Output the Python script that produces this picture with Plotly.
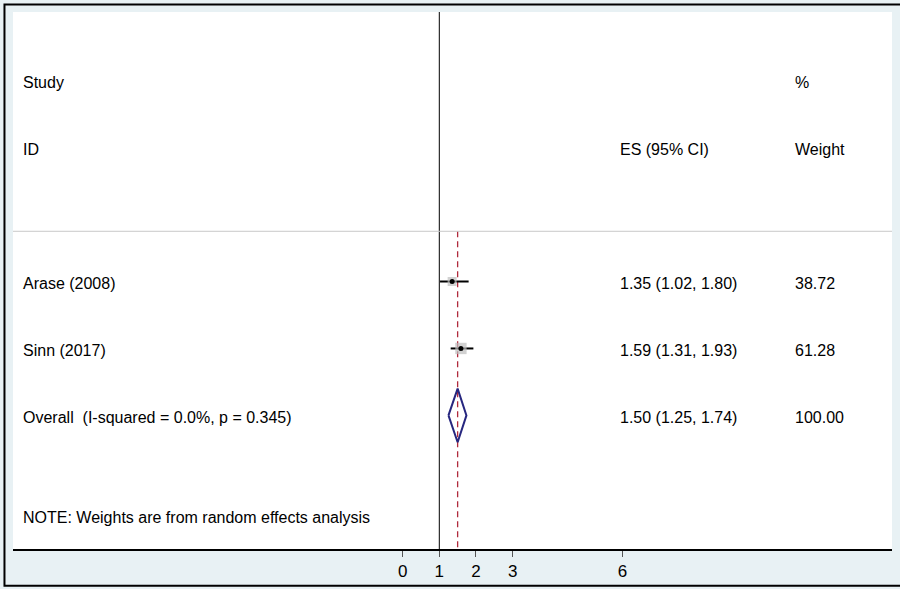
import plotly.graph_objects as go

# Study-level estimates (hazard ratio with 95% CI) and random-effects weights
studies = ["Arase (2008)", "Sinn (2017)"]
es = [1.35, 1.59]
ci_low = [1.02, 1.31]
ci_high = [1.80, 1.93]
weights = [38.72, 61.28]

# Pooled estimate
overall_label = "Overall  (I-squared = 0.0%, p = 0.345)"
overall_es = 1.50
overall_low = 1.25
overall_high = 1.74
overall_weight = 100.00

tick_vals = [0, 1, 2, 3, 6]
note = "NOTE: Weights are from random effects analysis"

FONT = "Liberation Sans, Arial, sans-serif"

# Row layout (in row units from the top of the panel)
study_rows = [4, 5]
overall_row = 6
separator_row = 3.25
note_row = 7.5
top_row = -0.025
bottom_row = 7.995
text_nudge = 0.03  # baseline correction for centred text

fig = go.Figure()

# Null line at 1
fig.add_trace(go.Scatter(x=[1, 1], y=[top_row, bottom_row], mode="lines",
                         line=dict(color="black", width=1), hoverinfo="skip",
                         showlegend=False))
# Pooled estimate reference line
fig.add_trace(go.Scatter(x=[overall_es, overall_es], y=[separator_row, bottom_row],
                         mode="lines", line=dict(color="#b02a3c", width=1.3, dash="6px,4px"),
                         hoverinfo="skip", showlegend=False))

# Confidence intervals
for lo, hi, r in zip(ci_low, ci_high, study_rows):
    fig.add_trace(go.Scatter(x=[lo, hi], y=[r, r], mode="lines",
                             line=dict(color="black", width=2),
                             hoverinfo="skip", showlegend=False))

# Weight boxes, sized by study weight
fig.add_trace(go.Scatter(x=es, y=study_rows, mode="markers",
                         marker=dict(symbol="square", color="#bdbdbd",
                                     size=[w ** 0.5 * 1.45 for w in weights],
                                     line=dict(width=0)),
                         hoverinfo="skip", showlegend=False))
# Point estimates
fig.add_trace(go.Scatter(x=es, y=study_rows, mode="markers",
                         marker=dict(symbol="circle", color="black", size=5),
                         hoverinfo="skip", showlegend=False))

# Pooled-effect diamond
half_h = 0.4
fig.add_trace(go.Scatter(
    x=[overall_low, overall_es, overall_high, overall_es, overall_low],
    y=[overall_row, overall_row - half_h, overall_row, overall_row + half_h, overall_row],
    mode="lines", line=dict(color="#26267f", width=2),
    hoverinfo="skip", showlegend=False))

# Separator under the header
fig.add_shape(type="line", xref="paper", yref="y", x0=0, x1=1,
              y0=separator_row, y1=separator_row,
              line=dict(color="#c8c8c8", width=1))

# Outer frame
fig.add_shape(type="rect", xref="paper", yref="paper",
              x0=-0.0097, x1=1.02, y0=-0.0685, y1=1.0139,
              line=dict(color="black", width=2), layer="above")

def txt(x, y, s):
    fig.add_annotation(x=x, y=y + text_nudge, xref="paper", yref="y", text=s,
                       showarrow=False, xanchor="left", yanchor="middle",
                       font=dict(family=FONT, size=16, color="black"))

col_label, col_es, col_w = 0.0092, 0.6884, 0.8874

txt(col_label, 1.0, "Study")
txt(col_label, 2.0, "ID")
txt(col_es, 2.0, "ES (95% CI)")
txt(col_w, 1.0, "%")
txt(col_w, 2.0, "Weight")

for name, e, lo, hi, w, r in zip(studies, es, ci_low, ci_high, weights, study_rows):
    txt(col_label, r, name)
    txt(col_es, r, f"{e:.2f} ({lo:.2f}, {hi:.2f})")
    txt(col_w, r, f"{w:.2f}")

txt(col_label, overall_row, overall_label)
txt(col_es, overall_row,
    f"{overall_es:.2f} ({overall_low:.2f}, {overall_high:.2f})")
txt(col_w, overall_row, f"{overall_weight:.2f}")
txt(col_label, note_row, note)

fig.update_layout(
    width=900, height=589,
    margin=dict(l=13, r=8, t=12, b=38),
    paper_bgcolor="#e8f1f4", plot_bgcolor="white",
    xaxis=dict(range=[-10.63, 13.35], tickvals=tick_vals,
               ticktext=[str(t) for t in tick_vals],
               showgrid=False, zeroline=False, showline=True,
               linecolor="black", linewidth=2,
               ticks="outside", ticklen=6, tickcolor="#555555", tickwidth=1,
               tickfont=dict(family=FONT, size=17, color="black"),
               fixedrange=True),
    yaxis=dict(range=[bottom_row, top_row], showgrid=False, zeroline=False,
               showticklabels=False, showline=False, fixedrange=True),
    showlegend=False,
)

fig.write_html("out.html")
